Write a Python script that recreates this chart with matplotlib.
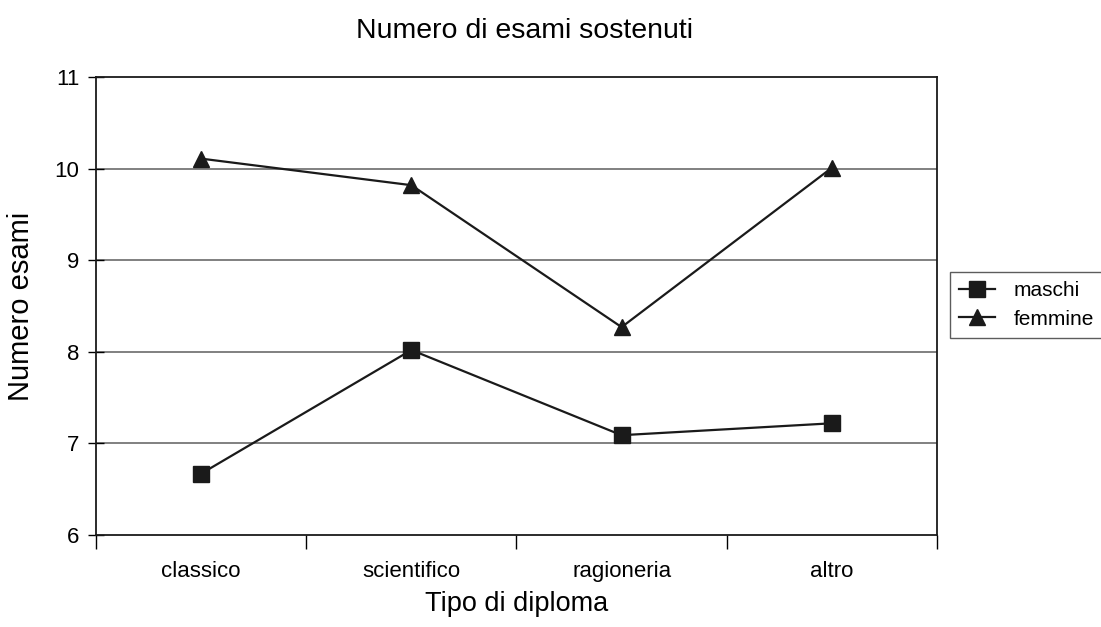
import numpy as np
import matplotlib
matplotlib.use('Agg')
import matplotlib.pyplot as plt

### Data
categorie = ['classico', 'scientifico', 'ragioneria', 'altro']
maschi = [6.67, 8.02, 7.09, 7.22]
femmine = [10.11, 9.82, 8.27, 10.01]
yticks = [6, 7, 8, 9, 10, 11]

def main():
    plt.rcParams['font.family'] = ['Liberation Sans', 'DejaVu Sans']

    fig = plt.figure()
    fig.set_size_inches(11.01, 6.27)
    fig.patch.set_facecolor('white')

    ax = fig.add_axes([0.0872, 0.1467, 0.7638, 0.7303])
    x = np.arange(len(categorie))

    ax.plot(x, maschi, color='#1a1a1a', lw=1.6, marker='s', ms=11,
            mfc='#1a1a1a', mec='#1a1a1a', label='maschi')
    ax.plot(x, femmine, color='#1a1a1a', lw=1.6, marker='^', ms=12,
            mfc='#1a1a1a', mec='#1a1a1a', label='femmine')

    ax.set_xlim(-0.5, len(categorie) - 0.5)
    ax.set_ylim(6, 11)
    ax.set_yticks(yticks)
    ax.set_xticks(x)
    ax.set_xticklabels(categorie)
    ax.set_xticks(np.arange(len(categorie) + 1) - 0.5, minor=True)
    ax.tick_params(axis='x', which='major', length=0, pad=19, labelsize=16)
    ax.tick_params(axis='x', which='minor', length=10, direction='out', width=1)
    ax.tick_params(axis='y', length=12, direction='inout', width=1, pad=6, labelsize=16)

    for v in yticks[1:-1]:
        ax.axhline(v, color='#808080', lw=1.4, zorder=0)

    for s in ax.spines.values():
        s.set_color('#1a1a1a')
        s.set_linewidth(1.3)

    ax.set_xlabel('Tipo di diploma', fontsize=19.5, labelpad=6)
    ax.set_ylabel('Numero esami', fontsize=21, labelpad=14)
    fig.text(0.476, 0.950, 'Numero di esami sostenuti', fontsize=20.5,
             ha='center', va='center')

    leg = ax.legend(loc='upper left', bbox_to_anchor=(0.8628, 0.5662),
                    bbox_transform=fig.transFigure, fontsize=15,
                    frameon=True, fancybox=False, edgecolor='#333333',
                    handlelength=1.7, handletextpad=0.9, borderpad=0.45,
                    borderaxespad=0, labelspacing=0.45)
    leg.get_frame().set_linewidth(1.0)

    fig.savefig('out.png', dpi=100)

if __name__ == '__main__':
    main()
